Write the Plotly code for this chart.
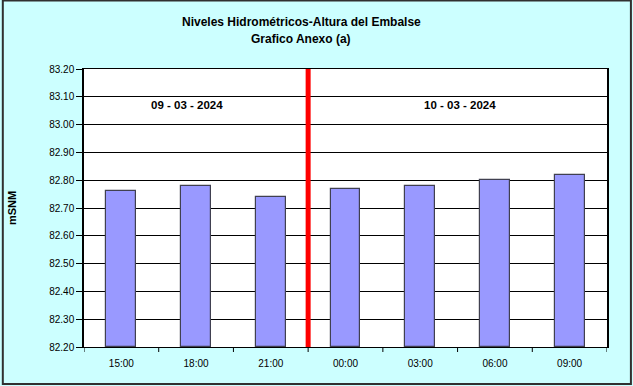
import plotly.graph_objects as go

categories = ["15:00", "18:00", "21:00", "00:00", "03:00", "06:00", "09:00"]
values = [82.76, 82.78, 82.74, 82.77, 82.78, 82.80, 82.82]
tick_vals = [82.2 + 0.1 * i for i in range(11)]
tick_text = ["%.2f" % v for v in tick_vals]
date_labels = ["09 - 03 - 2024", "10 - 03 - 2024"]
divider_pos = 2.5

W, H = 633, 386
L, R, T, B = 82, 26, 69, 39
pw, ph = W - L - R, H - T - B

def px(x):
    return (x - L) / pw

def py(y):
    return (H - B - y) / ph

fig = go.Figure()
fig.add_trace(go.Bar(
    x=list(range(len(categories))), y=[v - 82.2 for v in values], base=82.2,
    width=0.4, marker=dict(color="#9999FF", line=dict(color="#404050", width=1.2)),
    hoverinfo="skip",
))

font = "Liberation Sans, Arial, sans-serif"
fig.update_layout(
    width=W, height=H,
    margin=dict(l=L, r=R, t=T, b=B),
    paper_bgcolor="#CCFFFF", plot_bgcolor="white",
    showlegend=False, bargap=0,
    font=dict(family=font, size=10, color="black"),
    xaxis=dict(
        range=[-0.5, 6.5], tickmode="array", tickvals=list(range(7)), ticktext=categories,
        showgrid=False, zeroline=False, showline=True, linecolor="black", linewidth=1,
        mirror=True, ticks="outside", ticklen=7, tickcolor="rgba(0,0,0,0)",
        tickfont=dict(size=10, family=font),
    ),
    yaxis=dict(
        range=[82.2, 83.2], tickmode="array", tickvals=tick_vals, ticktext=tick_text,
        showgrid=True, gridcolor="black", gridwidth=1, zeroline=False,
        showline=True, linecolor="black", linewidth=1.5, mirror=True,
        ticks="outside", ticklen=6, tickcolor="black",
        tickfont=dict(size=10, family=font),
        title=dict(text="<b>mSNM</b>", font=dict(size=11, family=font), standoff=30),
    ),
)

# x-axis tick marks at category boundaries
for i in range(8):
    fig.add_shape(type="line", xref="x", yref="paper", x0=i - 0.5, x1=i - 0.5,
                  y0=0, y1=-5 / ph, line=dict(color="black", width=1))

# red divider
fig.add_shape(type="line", xref="x", yref="paper", x0=divider_pos, x1=divider_pos,
              y0=0, y1=1, line=dict(color="#FF0000", width=5), layer="above")

# title
fig.add_annotation(xref="paper", yref="paper", x=px(300), y=py(22), showarrow=False,
                   text="<b>Niveles Hidrométricos-Altura del Embalse</b>",
                   font=dict(size=12, family=font), xanchor="center", yanchor="middle")
fig.add_annotation(xref="paper", yref="paper", x=px(300), y=py(39), showarrow=False,
                   text="<b>Grafico Anexo (a)</b>",
                   font=dict(size=12, family=font), xanchor="center", yanchor="middle")

# date labels
fig.add_annotation(xref="paper", yref="paper", x=px(185), y=py(105), showarrow=False,
                   text="<b>" + date_labels[0] + "</b>", font=dict(size=11.5, family=font),
                   xanchor="center", yanchor="middle")
fig.add_annotation(xref="paper", yref="paper", x=px(459), y=py(105), showarrow=False,
                   text="<b>" + date_labels[1] + "</b>", font=dict(size=11.5, family=font),
                   xanchor="center", yanchor="middle")

# outer border
fig.add_shape(type="rect", xref="paper", yref="paper",
              x0=px(0.5), x1=px(631), y0=py(0.5), y1=py(384),
              line=dict(color="#303030", width=2), layer="below")

fig.write_html("out.html", config={"displayModeBar": False},
               post_script="document.body.style.margin='0';document.body.style.padding='0';"
                           "document.body.style.overflow='hidden';")
